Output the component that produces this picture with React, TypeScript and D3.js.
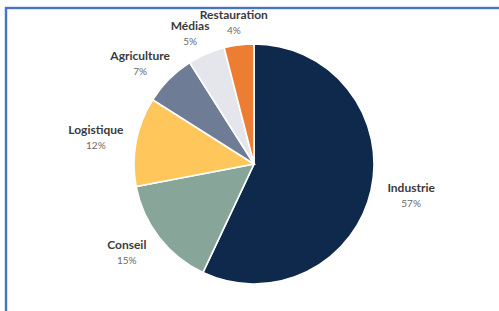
import { useMemo } from "react";
import * as d3 from "d3";

const categories = ["Industrie", "Conseil", "Logistique", "Agriculture", "Médias", "Restauration"];
const shares = [57, 15, 12, 7, 5, 4];
const sliceColors = ["#0e294c", "#87a699", "#ffc65c", "#6e7d95", "#e5e6eb", "#ec7d32"];

const W = 499;
const H = 311;

export default function App() {
  const cx = 254;
  const cy = 164;
  const radius = 120;
  // labels sit on a flattened ellipse round the pie
  const labelRx = 161;
  const labelRy = 143;

  const arcs = useMemo(
    () =>
      d3
        .pie<number>()
        .sort(null)
        .value((d) => d)(shares),
    []
  );

  const arc = d3.arc<d3.PieArcDatum<number>>().innerRadius(0).outerRadius(radius);

  return (
    <div style={{ position: "absolute", left: 0, top: 0, width: W, height: H, background: "#fff" }}>
      <svg width={W} height={H} style={{ display: "block" }}>
        {/* frame, running off the right and bottom edges */}
        <rect x={6} y={8} width={W + 20} height={H + 20} fill="none" stroke="#4a74c0" strokeWidth={2.4} />

        <g transform={`translate(${cx},${cy})`}>
          {arcs.map((a, i) => (
            <path key={categories[i]} d={arc(a) ?? ""} fill={sliceColors[i]} stroke="#fff" strokeWidth={1.6} />
          ))}
          {arcs.map((a, i) => {
            const mid = (a.startAngle + a.endAngle) / 2;
            const x = Math.sin(mid) * labelRx;
            const y = -Math.cos(mid) * labelRy;
            return (
              <g key={categories[i] + "-lbl"} transform={`translate(${x},${y})`}>
                <text
                  y={-3}
                  textAnchor="middle"
                  fontFamily="Lato, 'Open Sans', sans-serif"
                  fontWeight={700}
                  fontSize={12}
                  fill="#3b3b3b"
                >
                  {categories[i]}
                </text>
                <text
                  y={12}
                  textAnchor="middle"
                  fontFamily="Lato, 'Open Sans', sans-serif"
                  fontSize={10}
                  fill="#6a6a6a"
                >
                  {shares[i]}%
                </text>
              </g>
            );
          })}
        </g>
      </svg>
    </div>
  );
}
